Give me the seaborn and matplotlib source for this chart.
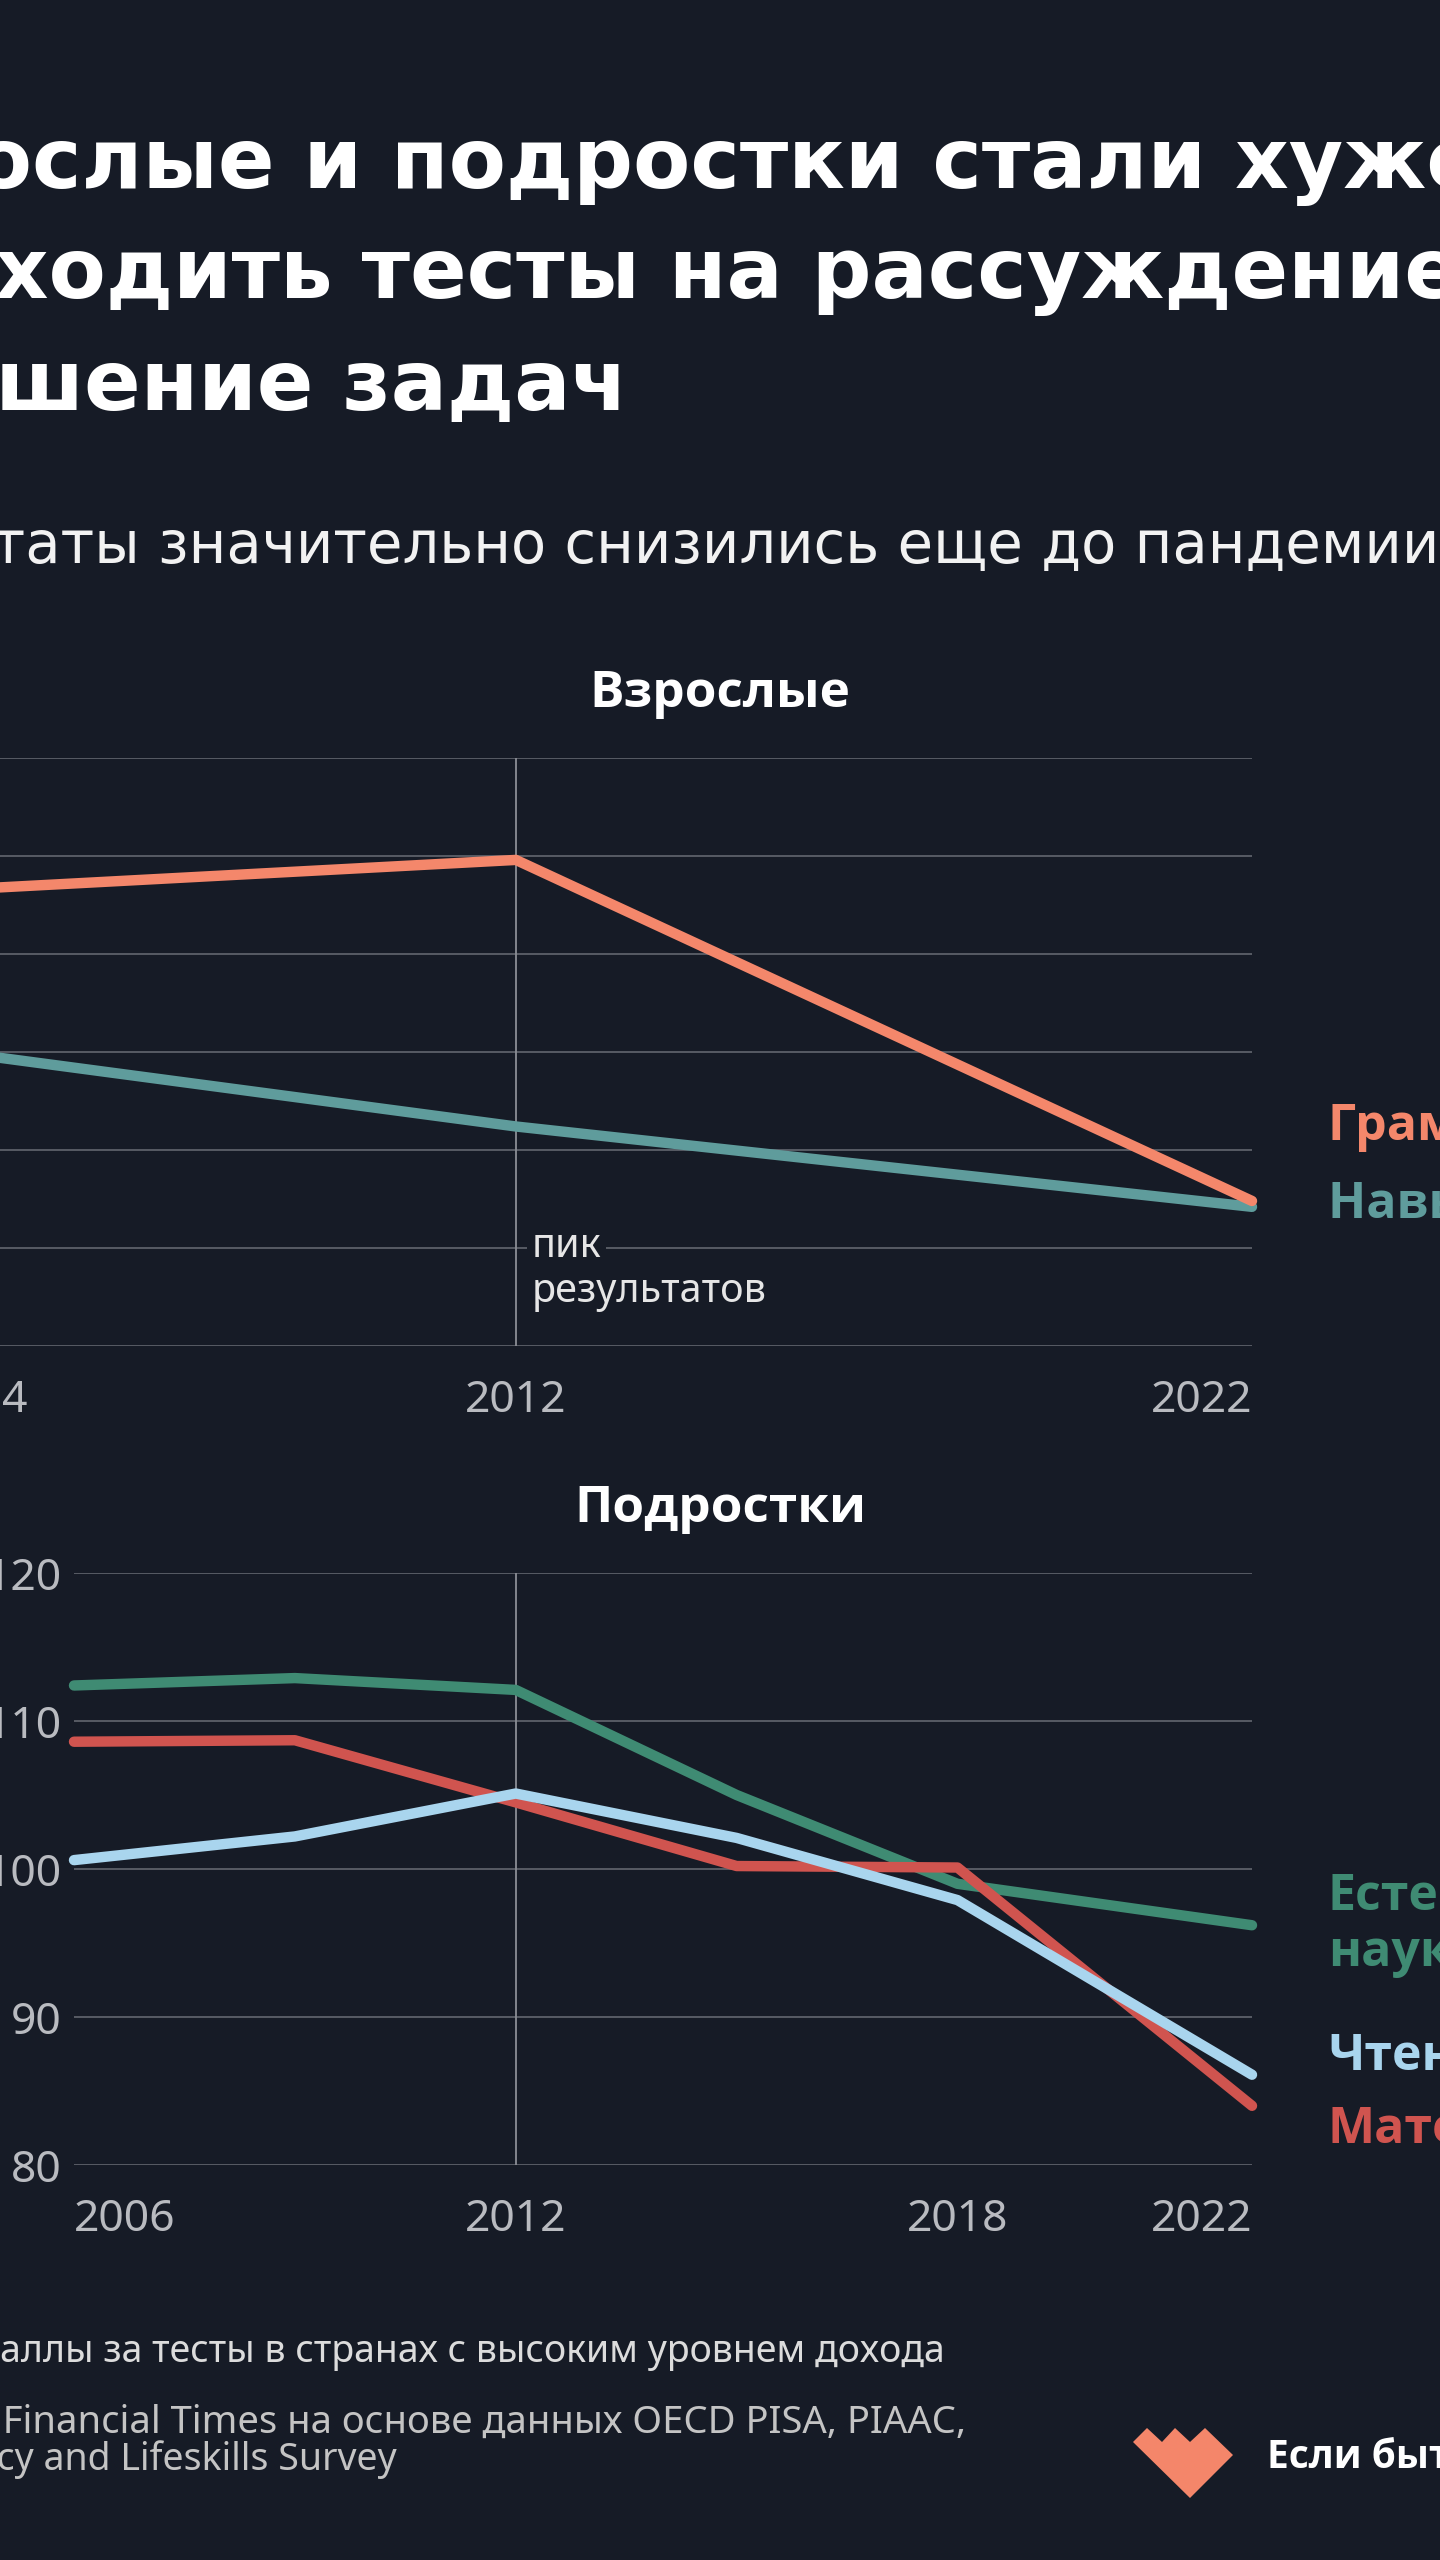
import pandas as pd
import seaborn as sns
import matplotlib.pyplot as plt
from matplotlib import font_manager as fm
from matplotlib.patches import Polygon

W, H = 1440, 2560
BG = "#161b26"
GRID = "#5c6069"

# --- Взрослые (PIAAC и др.) ---
adult_years = [2004, 2012, 2022]
literacy = [273.2, 274.8, 257.4]
numeracy = [265.2, 261.2, 257.1]
adult_yticks = [250, 255, 260, 265, 270, 275, 280]
adult_xticks = [2004, 2012, 2022]

# --- Подростки (PISA) ---
teen_years = [2006, 2009, 2012, 2015, 2018, 2022]
science = [112.4, 112.9, 112.1, 105.0, 99.0, 96.2]
reading = [100.6, 102.2, 105.1, 102.1, 97.9, 86.1]
maths = [108.6, 108.7, 104.5, 100.2, 100.1, 84.0]
teen_yticks = [80, 90, 100, 110, 120]
teen_xticks = [2006, 2012, 2018, 2022]

colors = {
    "Грамотность": "#f4876b",
    "Навыки счета": "#5f9c9c",
    "Естественные науки": "#3f8b73",
    "Чтение": "#a9d5ee",
    "Математика": "#d0544f",
}

sns.set_theme(style="dark")
plt.rcParams["font.family"] = ["Noto Sans", "DejaVu Sans"]


def has_bold(family):
    try:
        path = fm.findfont(fm.FontProperties(family=family, weight="bold"), fallback_to_default=False)
    except ValueError:
        return False
    return "bold" in path.lower()


# жирный шрифт с кириллицей (если у Noto Sans нет Bold)
BOLD = "DejaVu Sans"
for fam in ["Noto Sans", "Open Sans", "Roboto", "Inter", "Liberation Sans"]:
    if has_bold(fam):
        BOLD = fam
        break
bold_fam = [BOLD, "DejaVu Sans"]

fig = plt.figure(figsize=(W / 100, H / 100), dpi=100, facecolor=BG)
renderer = fig.canvas.get_renderer()


def fx(x):
    return x / W


def fy(y):
    return 1 - y / H


def cut_text(x_vis, y, full, prefix, **kw):
    # текст обрезан краем картинки: ставим его так, чтобы после prefix шла видимая часть
    probe = fig.text(0, 0, prefix, **kw)
    w = probe.get_window_extent(renderer=renderer).width
    probe.remove()
    fig.text(fx(x_vis - w), fy(y), full, va="baseline", **kw)


# заголовок и подзаголовок
title_kw = dict(size=60, weight="bold", color="white", family=["DejaVu Sans"])
cut_text(-25, 188, "Взрослые и подростки стали хуже", "Взр", **title_kw)
cut_text(-5, 298, "проходить тесты на рассуждение и", "про", **title_kw)
cut_text(-5, 410, "решение задач", "ре", **title_kw)
cut_text(-8, 563, "Результаты значительно снизились еще до пандемии коронавируса",
         "Резуль", size=41.5, color="#f2f2f2", family=["DejaVu Sans"])

# графики
ax1 = fig.add_axes([fx(-73), fy(1346), 1325 / W, 588 / H])
ax2 = fig.add_axes([fx(74), fy(2165), 1178 / W, 592 / H])

adult = pd.DataFrame({"Год": adult_years, "Грамотность": literacy, "Навыки счета": numeracy})
adult = adult.melt(id_vars="Год", var_name="Навык", value_name="Балл")
teen = pd.DataFrame({"Год": teen_years, "Естественные науки": science,
                     "Математика": maths, "Чтение": reading})
teen = teen.melt(id_vars="Год", var_name="Навык", value_name="Балл")

line_kw = dict(linewidth=7.5, errorbar=None, legend=False, palette=colors,
               solid_capstyle="round", solid_joinstyle="round", clip_on=False, zorder=3)
sns.lineplot(data=adult, x="Год", y="Балл", hue="Навык",
             hue_order=["Навыки счета", "Грамотность"], ax=ax1, **line_kw)
sns.lineplot(data=teen, x="Год", y="Балл", hue="Навык",
             hue_order=["Естественные науки", "Математика", "Чтение"], ax=ax2, **line_kw)

ax1.set_xlim(2004, 2022)
ax1.set_ylim(250, 280)
ax1.set_yticks(adult_yticks)
ax1.set_xticks(adult_xticks)
ax1.set_xticklabels([str(y) for y in adult_xticks])
ax2.set_xlim(2006, 2022)
ax2.set_ylim(80, 120)
ax2.set_yticks(teen_yticks)
ax2.set_xticks(teen_xticks)
ax2.set_xticklabels([str(y) for y in teen_xticks])

for ax, has in ((ax1, ["left", "center", "right"]), (ax2, ["left", "center", "center", "right"])):
    ax.set_facecolor("none")
    ax.set(xlabel="", ylabel="")
    for s in ax.spines.values():
        s.set_visible(False)
    ax.xaxis.grid(False)
    ax.yaxis.grid(True, color=GRID, linewidth=1.3)
    ax.set_axisbelow(True)
    ax.axvline(2012, color="#8b8e95", linewidth=1.3, zorder=1)
    ax.tick_params(axis="both", length=0, labelsize=32, labelcolor="#b9bbc0")
    ax.tick_params(axis="x", pad=24)
    ax.tick_params(axis="y", pad=9)
    for lab, ha in zip(ax.get_xticklabels(), has):
        lab.set_ha(ha)

# подписи графиков
fig.text(fx(720), fy(694), "Взрослые", ha="center", va="center", size=37,
         weight="bold", color="white", family=bold_fam)
fig.text(fx(720), fy(1509), "Подростки", ha="center", va="center", size=37,
         weight="bold", color="white", family=bold_fam)

# подписи линий
lab_kw = dict(size=36, weight="bold", va="center", family=bold_fam)
fig.text(fx(1328), fy(1127), "Грамотность", color=colors["Грамотность"], **lab_kw)
fig.text(fx(1328), fy(1205), "Навыки счета", color=colors["Навыки счета"], **lab_kw)
fig.text(fx(1328), fy(1925), "Естественные\nнауки", color=colors["Естественные науки"],
         linespacing=1.15, **lab_kw)
fig.text(fx(1328), fy(2057), "Чтение", color=colors["Чтение"], **lab_kw)
fig.text(fx(1328), fy(2130), "Математика", color=colors["Математика"], **lab_kw)

# аннотация пика
fig.text(fx(532), fy(1257), "пик", size=28.5, color="#e6e6e6", va="baseline",
         bbox=dict(boxstyle="square,pad=0.12", facecolor=BG, edgecolor="none"))
fig.text(fx(532), fy(1302), "результатов", size=28.5, color="#e6e6e6", va="baseline")

# примечание и источник
cut_text(0, 2362, "Средние баллы за тесты в странах с высоким уровнем дохода",
         "Средние б", size=27, color="#dcdcdc")
cut_text(22, 2433, "Источник: Financial Times на основе данных OECD PISA, PIAAC,",
         "Источник: F", size=27.5, color="#c4c4c4")
cut_text(-3, 2470, "Adult Literacy and Lifeskills Survey", "Adult Litera",
         size=27, color="#c4c4c4")

# логотип
heart = [(1133, 2442), (1147, 2428), (1162, 2442), (1175, 2428), (1190, 2442),
         (1205, 2428), (1233, 2455), (1190, 2498)]
fig.patches.append(Polygon([(fx(x), fy(y)) for x, y in heart], closed=True,
                           facecolor="#f4866a", edgecolor="none", transform=fig.transFigure))
fig.text(fx(1267), fy(2457), "Если быть точным", size=28, weight="bold", color="white",
         va="center", family=bold_fam)

fig.savefig("out.png", dpi=100, facecolor=BG)
